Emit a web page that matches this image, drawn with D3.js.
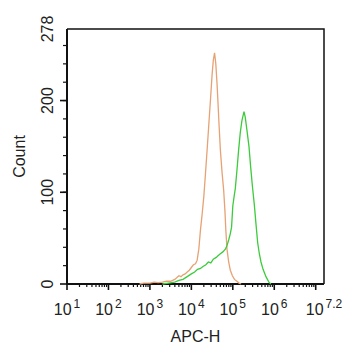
<!DOCTYPE html>
<html>
<head>
<meta charset="utf-8">
<script src="https://cdnjs.cloudflare.com/ajax/libs/d3/7.8.5/d3.min.js"></script>
<style>
 body { margin: 0; background: white; }
 text { font-family: "Liberation Sans", Arial, sans-serif; fill: #222; }
</style>
</head>
<body>
<svg id="viz" width="345" height="350"></svg>
<script>

// histogram traces: x as log10 exponent, y as count
var orangeExp   = [2.75,2.85,3.0,3.1,3.2,3.3,3.4,3.5,3.6,3.7,3.75,3.8,3.85,3.9,3.95,4.0,4.05,4.1,4.14,4.18,4.22,4.26,4.3,4.34,4.38,4.42,4.46,4.5,4.53,4.56,4.59,4.62,4.64,4.67,4.7,4.74,4.78,4.81,4.83,4.86,4.9,4.94,4.99,5.04,5.1,5.15,5.2];
var orangeCount = [0,1,1,2,1.5,2,3,3,5,9,8,10,11,13,15,18,21,22,26,38,59,76,95,120,146,173,200,228,244,252,240,218,200,172,146,122,102,80,60,38,24,15,9,5,3,1,0];

var greenExp   = [3.3,3.45,3.6,3.7,3.8,3.9,4.0,4.08,4.15,4.22,4.28,4.35,4.41,4.47,4.53,4.6,4.65,4.7,4.76,4.82,4.86,4.9,4.94,4.97,5.0,5.03,5.06,5.1,5.14,5.18,5.22,5.27,5.3,5.34,5.39,5.43,5.47,5.52,5.56,5.6,5.64,5.68,5.73,5.8,5.87,5.92];
var greenCount = [0,1,2,4,5,8,11,13,16,17,19,21,24,23,27,29,31,33,35,38,42,48,55,62,85,95,104,124,146,165,178,188,182,168,150,128,108,86,65,45,33,24,16,8,2,0];

// axis labels
var xMajorExp = [1,2,3,4,5,6,7.2];
var yTicks = [0,100,200,278];

var svg = d3.select("#viz");
var mLeft = 67, mRight = 324, mTop = 29, mBottom = 284;

var x = d3.scaleLog().domain([10, Math.pow(10,7.2)]).range([mLeft, mRight]);
var y = d3.scaleLinear().domain([0, 278]).range([mBottom, mTop]);

// minor x ticks (2..9 in each decade up to 10^7)
var xMinor = [];
for (var e = 1; e < 7; e++) {
    for (var m = 2; m <= 9; m++) xMinor.push(m*Math.pow(10,e));
}
var xMajor = [1,2,3,4,5,6,7].map(function(e) { return Math.pow(10,e); });

svg.append("g").selectAll("line").data(xMinor).enter().append("line")
    .attr("x1", function(d) { return x(d); }).attr("x2", function(d) { return x(d); })
    .attr("y1", mBottom).attr("y2", mBottom+3)
    .attr("stroke", "#111").attr("stroke-width", 1.2);

svg.append("g").selectAll("line").data(xMajor).enter().append("line")
    .attr("x1", function(d) { return x(d); }).attr("x2", function(d) { return x(d); })
    .attr("y1", mBottom).attr("y2", mBottom+6)
    .attr("stroke", "#111").attr("stroke-width", 1.6);

// y ticks every 20, majors at 100
var yMinor = d3.range(20, 278, 20);
svg.append("g").selectAll("line").data(yMinor).enter().append("line")
    .attr("x1", mLeft-4).attr("x2", mLeft)
    .attr("y1", function(d) { return y(d); }).attr("y2", function(d) { return y(d); })
    .attr("stroke", "#111").attr("stroke-width", 1.2);
svg.append("g").selectAll("line").data([0,100,200]).enter().append("line")
    .attr("x1", mLeft-7).attr("x2", mLeft)
    .attr("y1", function(d) { return y(d); }).attr("y2", function(d) { return y(d); })
    .attr("stroke", "#111").attr("stroke-width", 1.6);

// frame
svg.append("path")
    .attr("d", "M"+mLeft+","+mTop+"H"+mRight+"V"+mBottom)
    .attr("fill", "none").attr("stroke", "#111").attr("stroke-width", 1.5);
svg.append("path")
    .attr("d", "M"+mLeft+","+mTop+"V"+mBottom+"H"+mRight)
    .attr("fill", "none").attr("stroke", "#111").attr("stroke-width", 2);

// curves
var line = d3.line()
    .x(function(d) { return x(Math.pow(10, d[0])); })
    .y(function(d) { return y(d[1]); });

svg.append("path")
    .datum(d3.zip(orangeExp, orangeCount))
    .attr("d", line)
    .attr("fill", "none").attr("stroke", "#E6A274").attr("stroke-width", 1.3);

svg.append("path")
    .datum(d3.zip(greenExp, greenCount))
    .attr("d", line)
    .attr("fill", "none").attr("stroke", "#3CCB3C").attr("stroke-width", 1.3);

// x tick labels: 10 with superscript
var xl = svg.append("g").selectAll("text").data(xMajorExp).enter().append("text")
    .attr("x", function(d) { return x(Math.pow(10,d)); })
    .attr("y", 315)
    .attr("text-anchor", "middle")
    .style("font-size", "16px");
xl.append("tspan").text("10");
xl.append("tspan").attr("dy", -7).attr("dx", 2).style("font-size", "12px").text(function(d) { return d; });

// y tick labels, rotated
svg.append("g").selectAll("text").data(yTicks).enter().append("text")
    .attr("transform", function(d) { return "translate(53," + y(d) + ") rotate(-90)"; })
    .attr("text-anchor", "middle")
    .style("font-size", "16px")
    .text(function(d) { return d; });

svg.append("text")
    .attr("x", (mLeft+mRight)/2).attr("y", 342)
    .attr("text-anchor", "middle")
    .style("font-size", "16px")
    .text("APC-H");

svg.append("text")
    .attr("transform", "translate(25," + (mTop+mBottom)/2 + ") rotate(-90)")
    .attr("text-anchor", "middle")
    .style("font-size", "16px")
    .text("Count");

</script>
</body>
</html>
